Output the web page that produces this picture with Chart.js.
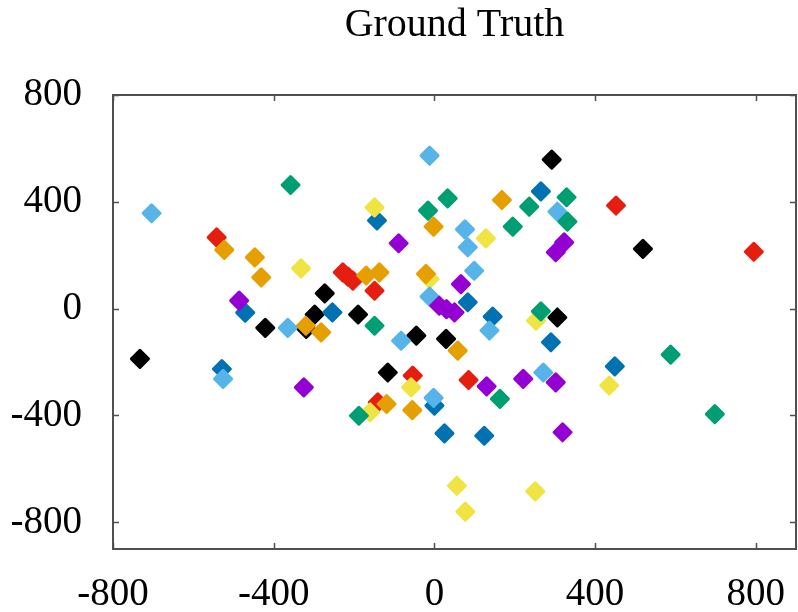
<!DOCTYPE html>
<html>
<head>
<meta charset="utf-8">
<script src="https://cdn.jsdelivr.net/npm/chart.js@4.4.1/dist/chart.umd.min.js"></script>
<style>
  html, body { margin: 0; padding: 0; background: #fff; overflow: hidden; }
  #chart { display: block; }
</style>
</head>
<body>
<canvas id="chart" width="798" height="612"></canvas>
<script>
// cluster centres, one list per colour
const black = [[-733, -188], [292, 558], [519, 224], [-273, 57], [-298, -22], [-421, -72], [-319, -76], [-190, -22], [-45, -101], [29, -113], [-116, -239], [306, -33]];
const orange = [[-523, 220], [-447, 192], [-431, 117], [-320, -64], [-282, -89], [168, 407], [-2, 307], [-170, 124], [-137, 136], [-21, 130], [58, -157], [-119, -357], [-55, -380]];
const lightBlue = [[-704, 357], [-12, 573], [306, 363], [76, 297], [83, 230], [99, 142], [-12, 45], [137, -82], [-365, -72], [-83, -120], [271, -239], [-2, -334], [-526, -263]];
const green = [[-358, 463], [329, 417], [33, 413], [-16, 367], [236, 382], [331, 326], [195, 307], [-149, -64], [265, -10], [163, -338], [-188, -401], [588, -172], [698, -395]];
const yellow = [[-332, 151], [-149, 379], [128, 263], [-12, 111], [253, -45], [-58, -295], [-160, -388], [56, -663], [77, -760], [251, -684], [435, -288]];
const blue = [[265, 439], [-143, 330], [-471, -15], [-254, -14], [83, 24], [145, -30], [290, -126], [0, -363], [25, -467], [124, -476], [-529, -226], [449, -216]];
const red = [[-542, 267], [-228, 136], [-215, 120], [-203, 105], [-149, 67], [-54, -251], [85, -267], [-141, -351], [452, 386], [795, 213]];
const purple = [[-486, 30], [-89, 245], [323, 248], [302, 211], [66, 92], [12, 11], [30, -2], [50, -14], [130, -291], [221, -263], [302, -276], [319, -463], [-325, -295]];

const xTicks = [-800, -400, 0, 400, 800];
const yTicks = [-800, -400, 0, 400, 800];

const groups = [
    [purple, "#9400d3"],
    [green, "#009e73"],
    [lightBlue, "#56b4e9"],
    [orange, "#e69f00"],
    [yellow, "#f0e442"],
    [blue, "#0072b2"],
    [red, "#e51e10"],
    [black, "#000000"]
];

const datasets = groups.map(function (g) {
    return {
        data: g[0].map(p => ({x: p[0], y: p[1]})),
        backgroundColor: g[1],
        borderColor: g[1],
        borderWidth: 3,
        pointStyle: "rectRot",
        pointRadius: 8.5,
        pointHoverRadius: 8.5
    };
});

const axisColor = "#505050";
const serif = "'Liberation Serif', 'Times New Roman', serif";

// rounded corners on the diamonds so they look like the blobby gnuplot marks
const roundJoin = {
    id: "roundJoin",
    beforeDatasetsDraw(chart) { chart.ctx.save(); chart.ctx.lineJoin = "round"; },
    afterDatasetsDraw(chart) { chart.ctx.restore(); }
};

// gnuplot style frame with inward ticks on all four sides
const framePlugin = {
    id: "frame",
    afterDraw(chart) {
        const ctx = chart.ctx;
        const a = chart.chartArea;
        const xs = chart.scales.x, ys = chart.scales.y;
        const len = 6;
        ctx.save();
        ctx.strokeStyle = axisColor;
        ctx.lineWidth = 2;
        ctx.strokeRect(a.left, a.top, a.right - a.left, a.bottom - a.top);
        ctx.lineWidth = 1.5;
        ctx.beginPath();
        xTicks.forEach(function (v) {
            const px = Math.round(xs.getPixelForValue(v)) + 0.5;
            ctx.moveTo(px, a.bottom); ctx.lineTo(px, a.bottom - len);
            ctx.moveTo(px, a.top); ctx.lineTo(px, a.top + len);
        });
        yTicks.forEach(function (v) {
            const py = Math.round(ys.getPixelForValue(v)) + 0.5;
            ctx.moveTo(a.left, py); ctx.lineTo(a.left + len, py);
            ctx.moveTo(a.right, py); ctx.lineTo(a.right - len, py);
        });
        ctx.stroke();
        ctx.restore();
    }
};

const tickFont = {family: serif, size: 39};

new Chart(document.getElementById("chart"), {
    type: "scatter",
    data: {datasets: datasets},
    options: {
        responsive: false,
        animation: false,
        layout: {autoPadding: false, padding: {left: 0, right: 2, top: 0, bottom: 0}},
        plugins: {
            legend: {display: false},
            tooltip: {enabled: false},
            title: {
                display: true,
                fullSize: false,
                text: "Ground Truth",
                color: "#000",
                font: {family: serif, size: 40, weight: "normal", lineHeight: 1.2},
                padding: {top: 1, bottom: 46}
            }
        },
        scales: {
            x: {
                type: "linear",
                min: -800, max: 900,
                afterBuildTicks: s => { s.ticks = xTicks.map(v => ({value: v})); },
                afterFit: s => { s.height = 63; s.paddingLeft = 0; s.paddingRight = 0; },
                grid: {display: false, drawTicks: false},
                border: {display: false},
                ticks: {color: "#000", font: tickFont, padding: 22, maxRotation: 0, autoSkip: false}
            },
            y: {
                type: "linear",
                min: -900, max: 800,
                afterBuildTicks: s => { s.ticks = yTicks.map(v => ({value: v})); },
                afterFit: s => { s.width = 113; s.paddingTop = 0; s.paddingBottom = 0; },
                grid: {display: false, drawTicks: false},
                border: {display: false},
                ticks: {color: "#000", font: tickFont, padding: 31, autoSkip: false}
            }
        }
    },
    plugins: [roundJoin, framePlugin]
});
</script>
</body>
</html>
